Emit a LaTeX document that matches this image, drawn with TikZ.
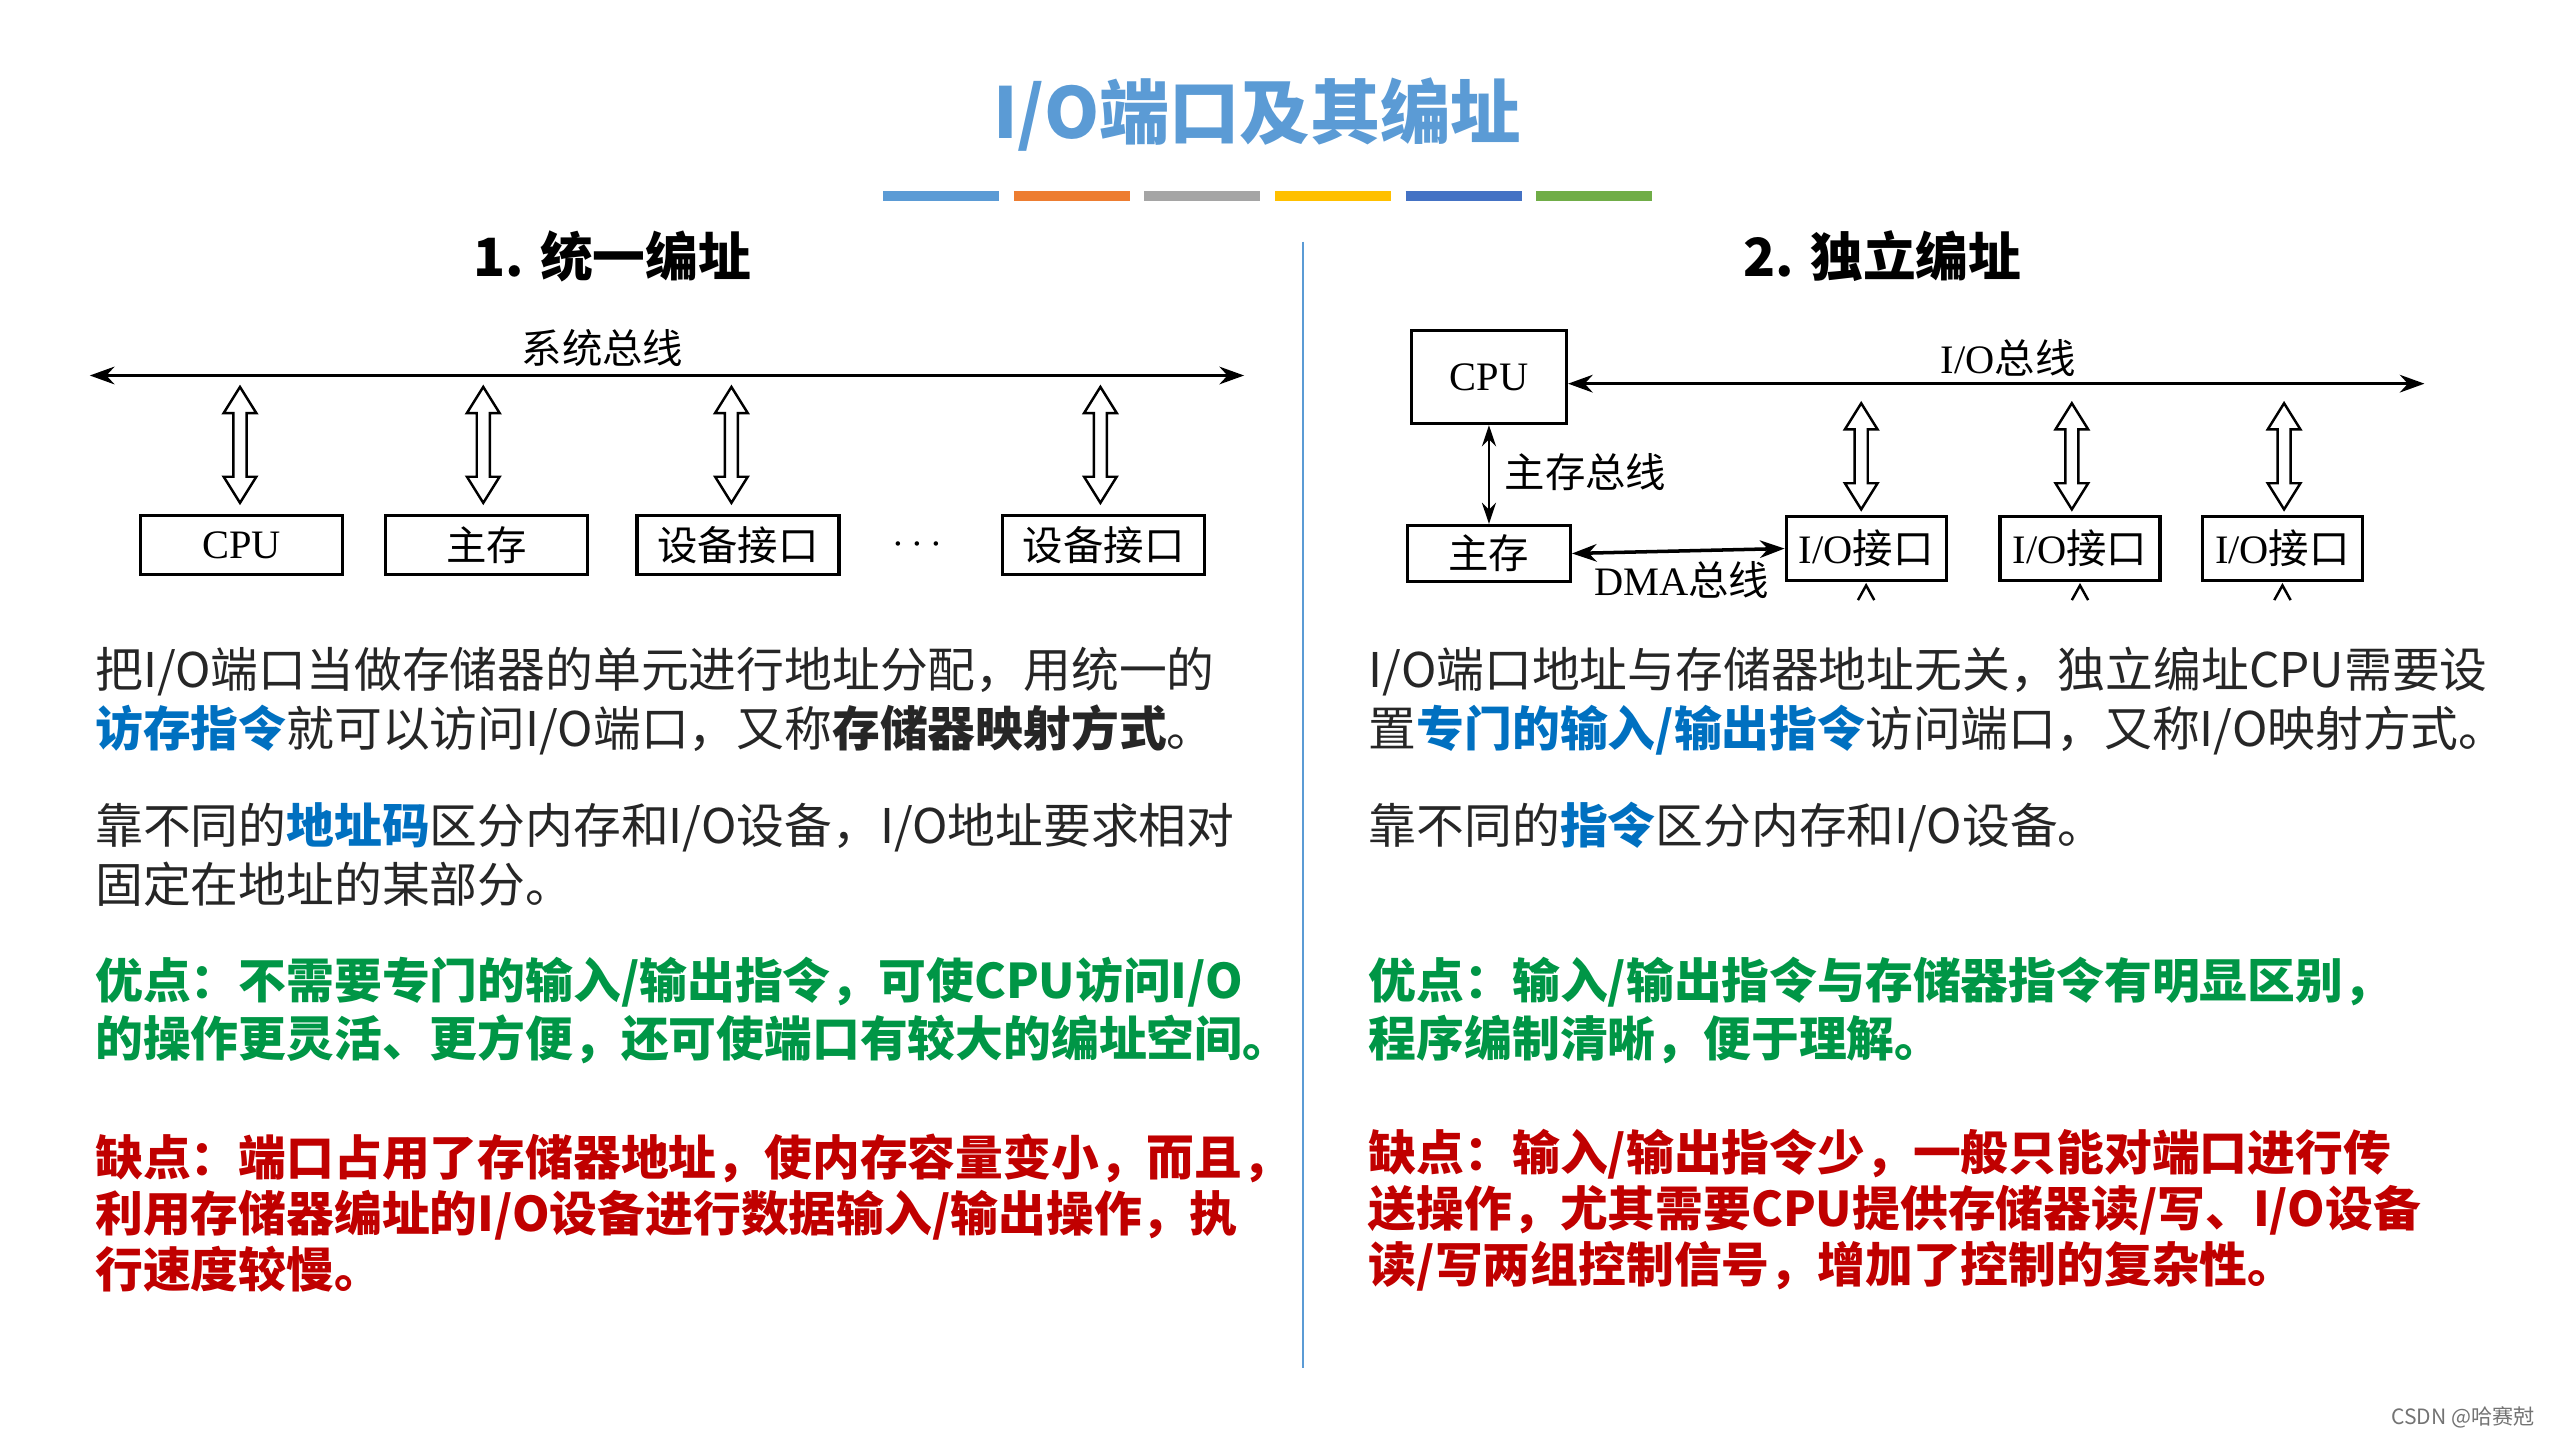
\documentclass[tikz,border=0pt]{standalone}
\usepackage{fontspec}
\setmainfont{Noto Sans CJK SC}
\newfontfamily\lat{Liberation Serif}
\usetikzlibrary{positioning,arrows.meta,calc}
\definecolor{titleblue}{RGB}{91,155,213}
\definecolor{keyblue}{RGB}{0,112,192}
\definecolor{goodgreen}{RGB}{0,150,70}
\definecolor{badred}{RGB}{192,0,0}
\definecolor{barorange}{RGB}{237,125,49}
\definecolor{bargray}{RGB}{165,165,165}
\definecolor{baryellow}{RGB}{255,192,0}
\definecolor{bardark}{RGB}{68,114,196}
\definecolor{bargreen}{RGB}{112,173,71}
\tikzset{
    box/.style={draw, line width=0.9pt, inner sep=0pt, font=\fontsize{11.5}{12}\selectfont},
    dbl/.style={draw, fill=white, line width=0.7pt, line join=miter},
    bus/.style={line width=1pt, {Stealth[length=7pt,width=5pt]}-{Stealth[length=7pt,width=5pt]}},
    lbl/.style={font=\fontsize{11.5}{12}\selectfont},
    para/.style={anchor=north west, inner sep=0pt, align=left, text=black!85,
        font=\fontsize{13.6}{16.8}\selectfont},
    bar/.style={line width=0.1cm},
}
% hollow double arrow: x, top y, bottom y
\newcommand\hollowarrow[3]{%
    \draw[dbl] (#1,#2) -- (#1+10,#2+16) -- (#1+4,#2+16) -- (#1+4,#3-16) -- (#1+10,#3-16)
        -- (#1,#3) -- (#1-10,#3-16) -- (#1-4,#3-16) -- (#1-4,#2+16) -- (#1-10,#2+16) -- cycle;}
\begin{document}
\begin{tikzpicture}[x=0.01633cm, y=-0.01633cm]
\useasboundingbox (0,0) rectangle (1568,882);

% Title and colour bars
\node[text=titleblue, font=\fontsize{20}{24}\bfseries\selectfont] (title) at (770,70) {I/O端口及其编址};
\foreach \c [count=\i from 0] in {titleblue,barorange,bargray,baryellow,bardark,bargreen}
    \draw[bar, \c] (541+\i*80,120) -- ++(71,0);
\draw[titleblue, line width=0.6pt] (798,148) -- (798,838);

% Headings
\node[font=\fontsize{15}{18}\bfseries\selectfont] (h1) at (375,157) {1. 统一编址};
\node[font=\fontsize{15}{18}\bfseries\selectfont] (h2) at (1153,157) {2. 独立编址};

% Left diagram
\coordinate (busL) at (55,230);
\coordinate (busR) at (762,230);
\draw[bus] (busL) -- (busR);
\node[lbl] at (369,213) {系统总线};
\node[box, minimum width=2.02cm, minimum height=0.59cm] (cpu) at (148,334) {\lat CPU};
\node[box, minimum width=2.02cm, minimum height=0.59cm] (mem) at (298,334) {主存};
\node[box, minimum width=2.02cm, minimum height=0.59cm] (dev1) at (452,334) {设备接口};
\node[box, minimum width=2.02cm, minimum height=0.59cm] (dev2) at (676,334) {设备接口};
\node[lbl] (dots) at (562,334) {$\cdots$};
\foreach \x in {147,296,448,674} {
    \hollowarrow{\x}{237}{308}
}

% Right diagram
\node[box, minimum width=1.55cm, minimum height=0.93cm] (rcpu) at (912,231) {\lat CPU};
\node[box, minimum width=1.63cm, minimum height=0.56cm] (rmem) at (912,339) {主存};
\node[box, minimum width=1.6cm, minimum height=0.64cm] (io1) at (1143,336) {{\lat I/O}接口};
\node[box, minimum width=1.6cm, minimum height=0.64cm] (io2) at (1274,336) {{\lat I/O}接口};
\node[box, minimum width=1.6cm, minimum height=0.64cm] (io3) at (1398,336) {{\lat I/O}接口};
\coordinate (ioend) at (1485,235);
\draw[bus] (rcpu.east |- ioend) -- (ioend);
\node[lbl] at (1230,219) {{\lat I/O}总线};
\draw[line width=0.7pt, {Stealth[length=6pt,width=4pt]}-{Stealth[length=6pt,width=4pt]}] (rcpu.south) -- (rmem.north);
\node[lbl, anchor=west] at (914,289) {主存总线};
\draw[bus] (rmem.east) -- (io1.west);
\node[lbl] at (1030,355) {{\lat DMA}总线};
\foreach \n/\x in {io1/1140,io2/1269,io3/1399} {
    \hollowarrow{\x}{247}{312}
    \draw[line width=0.7pt] ($(\n.south)+(-5,11)$) -- ($(\n.south)+(0,2)$) -- ($(\n.south)+(5,11)$);
}

% Left text
\node[para] (p1) at (58,396) {把I/O端口当做存储器的单元进行地址分配，用统一的\\
    \textcolor{keyblue}{\bfseries 访存指令}就可以访问I/O端口，又称\textbf{存储器映射方式}。};
\node[para] (p2) at (58,491) {靠不同的\textcolor{keyblue}{\bfseries 地址码}区分内存和I/O设备，I/O地址要求相对\\
    固定在地址的某部分。};
\node[para, text=goodgreen, font=\fontsize{13.6}{16.3}\bfseries\selectfont] (p3) at (58,586) {优点：不需要专门的输入/输出指令，可使CPU访问I/O\\
    的操作更灵活、更方便，还可使端口有较大的编址空间。};
\node[para, text=badred, font=\fontsize{13.6}{16}\bfseries\selectfont] (p4) at (58,694) {缺点：端口占用了存储器地址，使内存容量变小，而且，\\
    利用存储器编址的I/O设备进行数据输入/输出操作，执\\
    行速度较慢。};

% Right text
\node[para] (q1) at (838,396) {I/O端口地址与存储器地址无关，独立编址CPU需要设\\
    置\textcolor{keyblue}{\bfseries 专门的输入/输出指令}访问端口，又称I/O映射方式。};
\node[para] (q2) at (838,491) {靠不同的\textcolor{keyblue}{\bfseries 指令}区分内存和I/O设备。};
\node[para, text=goodgreen, font=\fontsize{13.6}{16.3}\bfseries\selectfont] (q3) at (838,586) {优点：输入/输出指令与存储器指令有明显区别，\\
    程序编制清晰，便于理解。};
\node[para, text=badred, font=\fontsize{13.6}{16}\bfseries\selectfont] (q4) at (838,691) {缺点：输入/输出指令少，一般只能对端口进行传\\
    送操作，尤其需要CPU提供存储器读/写、I/O设备\\
    读/写两组控制信号，增加了控制的复杂性。};

% Watermark
\node[anchor=east, text=black!55, font=\fontsize{6}{7}\selectfont] (mark) at (1560,868) {CSDN @哈赛尅};
\end{tikzpicture}
\end{document}
